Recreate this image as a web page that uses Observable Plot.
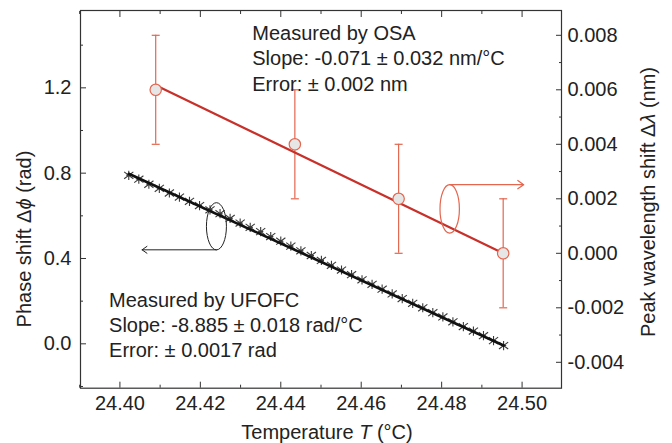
<!DOCTYPE html>
<html><head><meta charset="utf-8">
<script src="https://cdn.jsdelivr.net/npm/d3@7"></script>
<script src="https://cdn.jsdelivr.net/npm/@observablehq/plot@0.6"></script>
<style>body{margin:0;background:#fff;} svg{display:block}</style>
</head><body><div id="chart"></div>
<script>
// ---- data ----
const ufofcT = [24.4022, 24.4047, 24.4072, 24.4098, 24.4123, 24.4148, 24.4173, 24.4198, 24.4224, 24.4249,
  24.4274, 24.4299, 24.4324, 24.4350, 24.4375, 24.4400, 24.4425, 24.4450, 24.4476, 24.4501,
  24.4526, 24.4551, 24.4576, 24.4602, 24.4627, 24.4652, 24.4677, 24.4702, 24.4728, 24.4753,
  24.4778, 24.4803, 24.4828, 24.4854, 24.4879, 24.4904, 24.4929, 24.4954];
const ufofcPhase = [0.790, 0.772, 0.748, 0.729, 0.707, 0.688, 0.668, 0.648, 0.628, 0.610,
  0.588, 0.566, 0.546, 0.526, 0.503, 0.481, 0.458, 0.436, 0.414, 0.391,
  0.368, 0.346, 0.324, 0.300, 0.279, 0.256, 0.234, 0.212, 0.190, 0.169,
  0.146, 0.126, 0.103, 0.081, 0.060, 0.038, 0.015, -0.008];
const ufofcFitT = [24.4022, 24.4954];
const ufofcFitPhase = [0.797, -0.008];

const osaT = [24.4089, 24.4435, 24.4693, 24.4953];
const osaShift = [0.0060, 0.0040, 0.0020, 0.0000];
const osaErr = [0.0020, 0.0020, 0.0020, 0.0020];
const osaFitT = [24.4089, 24.4953];
const osaFitShift = [0.00617, 0.0000];

const xMajor = [24.40, 24.42, 24.44, 24.46, 24.48, 24.50];
const xMinor = [24.39, 24.41, 24.43, 24.45, 24.47, 24.49];
const leftMajor = [0.0, 0.4, 0.8, 1.2];
const leftMinor = [-0.2, 0.2, 0.6, 1.0, 1.4];
const rightMajor = [-0.004, -0.002, 0.000, 0.002, 0.004, 0.006, 0.008];
const rightMinor = [-0.003, -0.001, 0.001, 0.003, 0.005, 0.007];

const osaText = "Measured by OSA\nSlope: -0.071 ± 0.032 nm/°C\nError: ± 0.002 nm";
const ufofcText = "Measured by UFOFC\nSlope: -8.885 ± 0.018 rad/°C\nError: ± 0.0017 rad";

// ---- scales ----
const xDomain = [24.3902, 24.5098];
const leftDomain = [-0.208, 1.5625];
const rightDomain = [-0.00495, 0.00891];
const kLR = (leftDomain[1] - leftDomain[0]) / (rightDomain[1] - rightDomain[0]);
const toLeft = v => leftDomain[0] + (v - rightDomain[0]) * kLR;
const toRight = v => rightDomain[0] + (v - leftDomain[0]) / kLR;
const fmtR = v => { const r = Math.round(v * 1000) / 1000; return (r < 0 ? "-" : "") + Math.abs(r).toFixed(3); };

const ufofc = ufofcT.map((t, i) => ({t, p: ufofcPhase[i]}));
const ufofcFit = ufofcFitT.map((t, i) => ({t, p: ufofcFitPhase[i]}));
const osa = osaT.map((t, i) => ({t, v: osaShift[i], e: osaErr[i]}));
const osaFit = osaFitT.map((t, i) => ({t, v: osaFitShift[i]}));

const RED = "#c8302a", SALMON = "#e4664f", AX = "#333", TXT = "#222";
const FONT = "'Liberation Sans', Arial, Helvetica, sans-serif";

const ellipse = (rx, ry) => ({draw(ctx) {
  const k = 0.5523;
  ctx.moveTo(rx, 0);
  ctx.bezierCurveTo(rx, ry * k, rx * k, ry, 0, ry);
  ctx.bezierCurveTo(-rx * k, ry, -rx, ry * k, -rx, 0);
  ctx.bezierCurveTo(-rx, -ry * k, -rx * k, -ry, 0, -ry);
  ctx.bezierCurveTo(rx * k, -ry, rx, -ry * k, rx, 0);
  ctx.closePath();
}});
const capSym = {draw(ctx) { ctx.moveTo(-4, 0); ctx.lineTo(4, 0); }};
const starSym = {draw(ctx) {
  const a = 4.6, b = 2.6, c = 4.6;
  ctx.moveTo(-a, -a * 0.75); ctx.lineTo(a, a * 0.75);
  ctx.moveTo(-a, a * 0.75); ctx.lineTo(a, -a * 0.75);
  ctx.moveTo(0, -c); ctx.lineTo(0, c);
  ctx.moveTo(-b, 0); ctx.lineTo(b, 0);
}};

const blank = () => "";
const plot = Plot.plot({
  width: 672, height: 443,
  marginLeft: 80, marginRight: 111, marginTop: 10, marginBottom: 55.3,
  style: {fontFamily: FONT, fontSize: "20px", color: TXT, background: "#fff", overflow: "visible"},
  x: {domain: xDomain, label: null},
  y: {domain: leftDomain, label: null},
  marks: [
    // axes ticks (inward)
    Plot.axisX({ticks: xMajor, anchor: "bottom", tickSize: -6, tickPadding: 14, tickFormat: d => d.toFixed(2), fontSize: 20, stroke: AX, fill: TXT, label: null}),
    Plot.axisX({ticks: xMinor, anchor: "bottom", tickSize: -3, tickFormat: blank, stroke: AX, label: null}),
    Plot.axisX({ticks: xMajor, anchor: "top", tickSize: -6, tickFormat: blank, stroke: AX, label: null}),
    Plot.axisX({ticks: xMinor, anchor: "top", tickSize: -3, tickFormat: blank, stroke: AX, label: null}),
    Plot.axisY({ticks: leftMajor, anchor: "left", tickSize: -6, tickPadding: 15, tickFormat: d => d.toFixed(1), fontSize: 20, stroke: AX, fill: TXT, label: null}),
    Plot.axisY({ticks: leftMinor, anchor: "left", tickSize: -3, tickFormat: blank, stroke: AX, label: null}),
    Plot.axisY({ticks: rightMajor.map(toLeft), anchor: "right", tickSize: -6, tickPadding: 12, tickFormat: d => fmtR(toRight(d)), fontSize: 20, stroke: AX, fill: TXT, label: null}),
    Plot.axisY({ticks: rightMinor.map(toLeft), anchor: "right", tickSize: -3, tickFormat: blank, stroke: AX, label: null}),
    Plot.frame({stroke: AX, strokeWidth: 1.2}),

    // UFOFC
    Plot.dot(ufofc, {x: "t", y: "p", symbol: starSym, stroke: "#3a3a3a", strokeWidth: 1.1}),
    Plot.line(ufofcFit, {x: "t", y: "p", stroke: "#111", strokeWidth: 2.6}),

    // OSA
    Plot.ruleX(osa, {x: "t", y1: d => toLeft(d.v - d.e), y2: d => toLeft(d.v + d.e), stroke: SALMON, strokeWidth: 1.2}),
    Plot.dot(osa, {x: "t", y: d => toLeft(d.v - d.e), symbol: capSym, stroke: SALMON, strokeWidth: 1.2}),
    Plot.dot(osa, {x: "t", y: d => toLeft(d.v + d.e), symbol: capSym, stroke: SALMON, strokeWidth: 1.2}),
    Plot.line(osaFit, {x: "t", y: d => toLeft(d.v), stroke: RED, strokeWidth: 2.2}),
    Plot.dot(osa, {x: "t", y: d => toLeft(d.v), r: 5.7, fill: "#e6e6e6", stroke: SALMON, strokeWidth: 1.2}),

    // axis-indicator annotations
    Plot.dot([{x: 24.424, y: 0.551}], {x: "x", y: "y", symbol: ellipse(10, 23.6), stroke: "#222", strokeWidth: 1, fill: "none"}),
    Plot.arrow([{x1: 24.424, x2: 24.4055, y: 0.4407}], {x1: "x1", x2: "x2", y1: "y", y2: "y", stroke: "#222", strokeWidth: 1, headLength: 9, headAngle: 70}),
    Plot.dot([{x: 24.482, y: toLeft(0.00163)}], {x: "x", y: "y", symbol: ellipse(9.7, 24.3), stroke: SALMON, strokeWidth: 1.2, fill: "none"}),
    Plot.arrow([{x1: 24.482, x2: 24.5004, y: toLeft(0.00252)}], {x1: "x1", x2: "x2", y1: "y", y2: "y", stroke: SALMON, strokeWidth: 1.2, headLength: 9, headAngle: 70}),

    // text blocks
    Plot.text([{x: 24.4329, y: 1.5124, t: osaText}], {x: "x", y: "y", text: "t", textAnchor: "start", lineAnchor: "top", lineHeight: 1.29, fontSize: 20, fill: TXT}),
    Plot.text([{x: 24.3973, y: 0.2546, t: ufofcText}], {x: "x", y: "y", text: "t", textAnchor: "start", lineAnchor: "top", lineHeight: 1.25, fontSize: 20, fill: TXT})
  ]
});
document.getElementById("chart").appendChild(plot);

// axis titles with italic symbols
const svg = d3.select(plot);
function title(parts, attrs) {
  const t = svg.append("text").attr("font-family", FONT).attr("font-size", 20).attr("fill", TXT).attr("text-anchor", "middle");
  for (const [k, v] of Object.entries(attrs)) t.attr(k, v);
  for (const [s, it] of parts) t.append("tspan").attr("font-style", it ? "italic" : "normal").text(s);
}
title([["Temperature ", false], ["T", true], [" (°C)", false]], {x: 327, y: 439});
title([["Phase shift Δ", false], ["ϕ", true], [" (rad)", false]], {transform: "translate(31,239) rotate(-90)"});
title([["Peak wavelength shift Δ", false], ["λ", true], [" (nm)", false]], {transform: "translate(655,202) rotate(-90)"});
</script></body></html>
